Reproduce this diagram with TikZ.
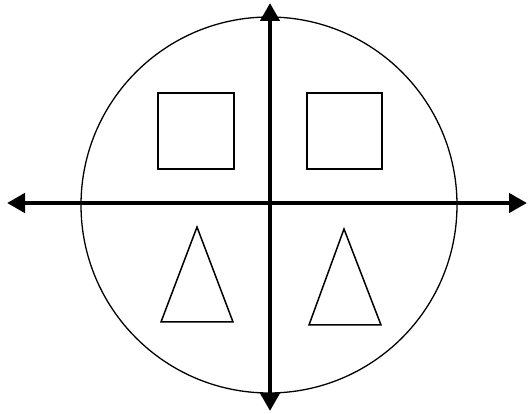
\documentclass[tikz,border=0pt]{standalone}
\usetikzlibrary{arrows.meta}
\begin{document}
\begin{tikzpicture}[x=1pt,y=-1pt,
  axis/.style={line width=4.5pt,-{Triangle[length=18pt,width=19pt]}},
  figline/.style={line width=1.5pt}]
\useasboundingbox (0,0) rectangle (528,414);
\draw[line width=1.3pt] (269,205) circle[radius=188];
\coordinate (o) at (270,203);
\coordinate (l) at (7,203);
\coordinate (r) at (527,203);
\coordinate (t) at (270,3);
\coordinate (b) at (270,411);
\draw[axis] (o) -- (l);
\draw[axis] (o) -- (r);
\draw[axis] (o) -- (t);
\draw[axis] (o) -- (b);
\draw[figline] (158,93) rectangle (234,169);
\draw[figline] (307,93) rectangle (382,169);
\draw[figline] (197,227) -- (233,322) -- (161,322) -- cycle;
\draw[figline] (344,229) -- (381,325) -- (309,325) -- cycle;
\end{tikzpicture}
\end{document}
